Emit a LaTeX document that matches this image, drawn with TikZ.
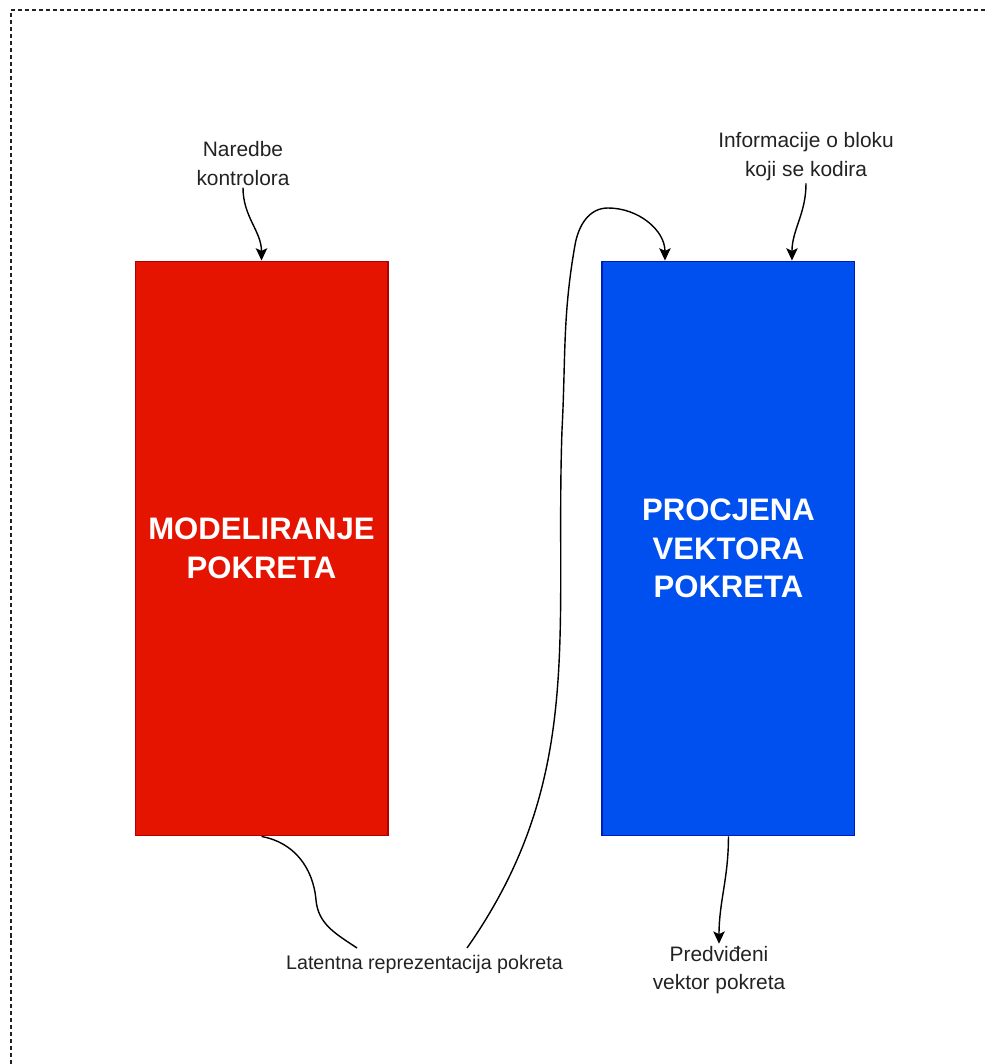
\documentclass[tikz,border=0pt]{standalone}
\usepackage{fontspec}
\setmainfont{Liberation Sans}
\usetikzlibrary{arrows.meta,calc,positioning}
\definecolor{modred}{HTML}{E51400}
\definecolor{modredline}{HTML}{B20000}
\definecolor{estblue}{HTML}{0050EF}
\definecolor{estblueline}{HTML}{001DBC}
\definecolor{notegray}{HTML}{222222}
\tikzstyle{block} = [rectangle, draw, line width=0.6pt, text=white,
    align=center, minimum width=5.06cm, minimum height=11.5cm, inner sep=0pt,
    font=\fontsize{17.7}{22}\selectfont\bfseries]
\tikzstyle{note} = [align=center, text=notegray, inner sep=1pt,
    font=\fontsize{11.9}{16.4}\selectfont]
\tikzstyle{line} = [draw, -{Stealth[length=7pt,width=6.5pt,inset=1.5pt]}, line width=0.8pt]
\tikzstyle{plain} = [draw, line width=0.8pt]

\begin{document}
\begin{tikzpicture}[x=0.02cm, y=-0.02cm]
    \useasboundingbox (0,0) rectangle (985,1064);
    % frame
    \draw [notegray, line width=0.6pt, dash pattern=on 2.3pt off 1.7pt] (11,1064) -- (11,10) -- (985,10);

    % Place nodes
    \node [block, fill=modred, draw=modredline] (nodered) at (261.5,548.5) {MODELIRANJE\\POKRETA};
    \node [block, fill=estblue, draw=estblueline, right=4.26cm of nodered] (nodeblue) {PROCJENA\\VEKTORA\\POKRETA};

    \node [note] (ctrl) at (243,163.5) {Naredbe\\kontrolora};
    \node [note] (info) at (806,157) {Informacije o bloku\\koji se kodira};
    \node [note, font=\fontsize{11.2}{14}\selectfont] (lat) at (424.5,964) {Latentna reprezentacija pokreta};
    \node [note] (pred) at (719,970) {Predviđeni\\vektor pokreta};

    \coordinate (latin) at (357,948);
    \coordinate (latout) at (467,948);
    \coordinate (loop) at (608,208);

    \path [line] (ctrl.south) to[out=-90, in=90] (nodered.north);
    \path [line] (info.south) to[out=-90, in=90] ($(nodeblue.north)!0.5!(nodeblue.north east)$);
    \path [plain] (nodered.south) to[out=-10, in=95] (316,900) to[out=-85, in=146] (latin);
    \path [line] (latout) to[out=55, in=-92] (562,430) to[out=87, in=-100] (575,245)
        to[out=80, in=180] (loop) to[out=0, in=90] ($(nodeblue.north west)!0.5!(nodeblue.north)$);
    \path [line] (nodeblue.south) to[out=-90, in=90] (pred.north);

\end{tikzpicture}
\end{document}
